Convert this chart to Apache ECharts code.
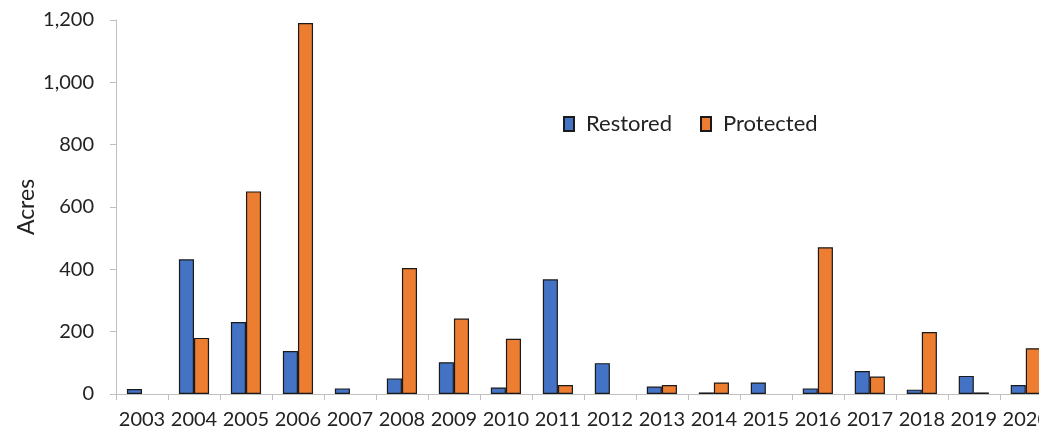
<!DOCTYPE html>
<html>
<head>
<meta charset="utf-8">
<script src="https://cdn.jsdelivr.net/npm/echarts@6/dist/echarts.min.js"></script>
<style>html,body{margin:0;padding:0;background:#fff;overflow:hidden;width:1039px;height:430px}#c{width:1052px;height:430px}</style>
</head>
<body>
<div id="c"></div>
<script>
const years = ['2003','2004','2005','2006','2007','2008','2009','2010','2011','2012','2013','2014','2015','2016','2017','2018','2019','2020'];
const restored = [16, 432, 231, 138, 18, 50, 102, 21, 368, 99, 24, 5, 37, 18, 74, 14, 58, 29];
const protectedAcres = [null, 180, 650, 1190, null, 404, 242, 177, 29, null, 29, 37, null, 471, 56, 199, 5, 147];
const yTicks = [0, 200, 400, 600, 800, 1000, 1200];

const font = 'Lato, "Open Sans", sans-serif';
const chart = echarts.init(document.getElementById('c'), null, {renderer: 'canvas'});
chart.setOption({
  animation: false,
  backgroundColor: '#ffffff',
  textStyle: {fontFamily: font},
  grid: {left: 116, right: 0, top: 20, bottom: 36, containLabel: false},
  legend: {
    left: 563, top: 113, padding: 0,
    icon: 'rect',
    itemWidth: 10, itemHeight: 14, itemGap: 28,
    textStyle: {fontSize: 22, color: '#222', fontFamily: font, padding: [0, 0, 0, 7]},
    data: ['Restored', 'Protected']
  },
  xAxis: {
    type: 'category',
    data: years,
    axisLine: {lineStyle: {color: '#BFBFBF', width: 1}},
    axisTick: {show: true, alignWithLabel: false, length: 6, lineStyle: {color: '#BFBFBF'}},
    axisLabel: {fontSize: 20, color: '#222', margin: 16, interval: 0, fontFamily: font},
    splitLine: {show: false}
  },
  yAxis: {
    type: 'value',
    min: yTicks[0], max: yTicks[yTicks.length - 1], interval: 200,
    name: 'Acres', nameLocation: 'middle', nameGap: 78, nameRotate: 90,
    nameMoveOverlap: false,
    nameTextStyle: {fontSize: 23, color: '#222', fontFamily: font},
    axisLine: {show: true, lineStyle: {color: '#BFBFBF', width: 1}},
    axisTick: {show: true, length: 6, lineStyle: {color: '#BFBFBF'}},
    axisLabel: {fontSize: 20, color: '#222', margin: 22, fontFamily: font,
      formatter: v => v.toLocaleString('en-US')},
    splitLine: {show: false}
  },
  series: [
    {name: 'Restored', type: 'bar', data: restored, barGap: '0%', barCategoryGap: '42%',
     itemStyle: {color: '#4472C4', borderColor: '#1a1a1a', borderWidth: 1.2}},
    {name: 'Protected', type: 'bar', data: protectedAcres, barGap: '0%', barCategoryGap: '42%',
     itemStyle: {color: '#ED7D31', borderColor: '#1a1a1a', borderWidth: 1.2}}
  ]
});
</script>
</body>
</html>
